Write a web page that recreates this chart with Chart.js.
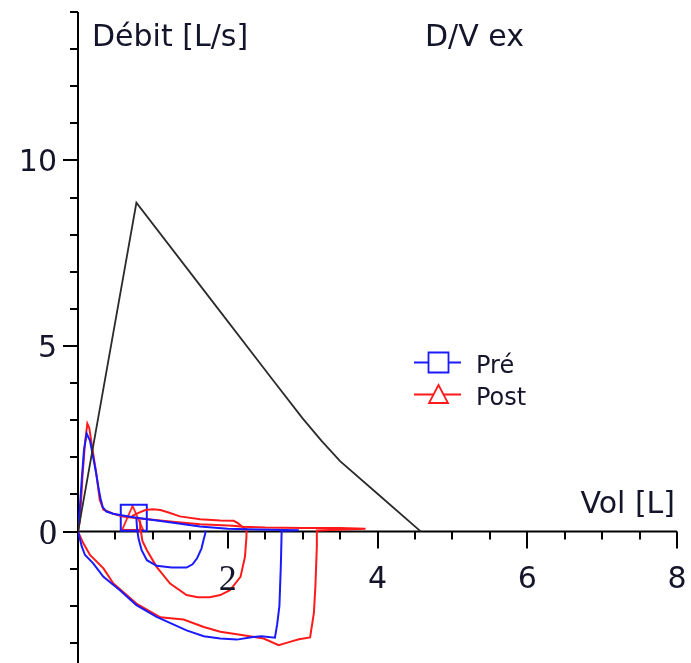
<!DOCTYPE html>
<html>
<head>
<meta charset="utf-8">
<script src="https://cdn.jsdelivr.net/npm/chart.js@4.4.1/dist/chart.umd.min.js"></script>
<style>
  html, body { margin: 0; padding: 0; background: #fff; }
</style>
</head>
<body>
<canvas id="chart" width="691" height="663"></canvas>
<script>
// axis ranges and tick labels
const volRange = [0, 8];
const flowRange = [-3.54, 14];
const volLabelTicks = [2, 4, 6, 8];
const flowLabelTicks = [0, 5, 10];

// predicted curve (black)
const predVol  = [0, 0.78, 1.8, 2.6, 3.0, 3.25, 3.5, 4.0, 4.58];
const predFlow = [0, 8.86, 6.19, 4.09, 3.05, 2.45, 1.9, 1.02, 0];

// Pré - forced loop
const preVol  = [0, 0.02, 0.05, 0.08, 0.116, 0.16, 0.2, 0.24, 0.27, 0.3, 0.33, 0.38, 0.47, 0.56, 0.7, 0.83,
                 1.2, 1.63, 2.0, 2.4, 2.95, 2.72, 2.71, 2.69, 2.66, 2.63, 2.45, 2.34, 2.12, 1.9, 1.68,
                 1.45, 1.05, 0.78, 0.56, 0.34, 0.2, 0.094, 0.05, 0.02, 0];
const preFlow = [0, 0.5, 1.4, 2.2, 2.64, 2.45, 2.03, 1.6, 1.22, 0.9, 0.66, 0.54, 0.48, 0.45, 0.4, 0.36,
                 0.26, 0.14, 0.08, 0.06, 0.04, 0.02, -0.85, -2.0, -2.5, -2.86, -2.82, -2.84, -2.91, -2.88, -2.82,
                 -2.66, -2.3, -1.98, -1.58, -1.22, -0.85, -0.63, -0.4, -0.15, 0];

// Pré - small loop
const preSmallVol  = [0.78, 0.79, 0.81, 0.85, 0.92, 1.05, 1.25, 1.45, 1.53, 1.59, 1.65, 1.68, 1.7, 1.7];
const preSmallFlow = [0.34, 0.05, -0.2, -0.5, -0.77, -0.92, -0.97, -0.97, -0.88, -0.72, -0.45, -0.2, -0.05, 0.03];

// Post - forced loop
const postVol  = [0, 0.027, 0.06, 0.094, 0.125, 0.15, 0.18, 0.25, 0.29, 0.34, 0.47, 0.6, 0.8, 1.0, 1.3, 1.63,
                  2.07, 2.2, 2.5, 3.0, 3.5, 3.84, 3.19, 3.19, 3.17, 3.15, 3.1, 2.95, 2.83, 2.68, 2.48, 2.21,
                  1.9, 1.68, 1.41, 1.1, 0.78, 0.47, 0.34, 0.16, 0.07, 0];
const postFlow = [0, 0.32, 1.49, 2.4, 2.91, 2.8, 2.4, 1.49, 0.86, 0.59, 0.48, 0.41, 0.36, 0.32, 0.26, 0.2,
                  0.16, 0.13, 0.11, 0.1, 0.1, 0.08, 0.03, -0.4, -1.5, -2.2, -2.85, -2.9, -2.97, -3.06, -2.88, -2.79,
                  -2.7, -2.57, -2.37, -2.31, -1.94, -1.39, -0.99, -0.63, -0.31, 0];

// Post - small loop
const postSmallVol  = [0.72, 0.8, 0.9, 1.0, 1.1, 1.2, 1.36, 1.63, 1.9, 2.08, 2.14, 2.2, 2.25, 2.25, 2.23, 2.17,
                       2.03, 1.9, 1.76, 1.6, 1.45, 1.23, 1.05, 0.92, 0.86, 0.84, 0.83];
const postSmallFlow = [0.42, 0.5, 0.58, 0.6, 0.58, 0.52, 0.41, 0.33, 0.3, 0.29, 0.22, 0.12, 0.06, -0.14, -0.68, -1.22,
                       -1.58, -1.71, -1.77, -1.77, -1.71, -1.4, -0.95, -0.5, -0.25, 0.0, 0.3];

// markers
const preMarker  = [0.745, 0.374];
const postMarker = [0.729, 0.369];

const BLUE = "#1a1aff";
const RED = "#ff1a1a";
const TEXT = "#14142a";

function toPoints(xs, ys) {
  return xs.map((x, i) => ({ x: x, y: ys[i] }));
}

function makeTriangle(w, h, color) {
  const c = document.createElement("canvas");
  c.width = w + 2;
  c.height = h + 2;
  const g = c.getContext("2d");
  g.strokeStyle = color;
  g.lineWidth = 1.8;
  g.beginPath();
  g.moveTo(c.width / 2, 1);
  g.lineTo(c.width - 1, c.height - 1);
  g.lineTo(1, c.height - 1);
  g.closePath();
  g.stroke();
  return c;
}

function line(data, color, width) {
  return {
    data: data,
    showLine: true,
    borderColor: color,
    borderWidth: width,
    pointRadius: 0,
    fill: false,
    tension: 0,
  };
}

const axesPlugin = {
  id: "axes",
  beforeDatasetsDraw(chart) {
    const { ctx, scales: { x, y } } = chart;
    const x0 = x.getPixelForValue(0);
    const y0 = y.getPixelForValue(0);

    ctx.save();
    ctx.strokeStyle = "#000";
    ctx.lineWidth = 2;
    ctx.beginPath();
    ctx.moveTo(x0, y.getPixelForValue(14));
    ctx.lineTo(x0, y.bottom);
    ctx.moveTo(x0, y0);
    ctx.lineTo(x.getPixelForValue(8), y0);

    // flow ticks, one per L/s
    for (let v = -3; v <= 14; v++) {
      const py = Math.round(y.getPixelForValue(v));
      const len = flowLabelTicks.includes(v) ? 15 : 8;
      ctx.moveTo(x0 - len, py);
      ctx.lineTo(x0, py);
    }
    // volume ticks, every 0.5 L
    for (let v = 0.5; v <= 8; v += 0.5) {
      const px = Math.round(x.getPixelForValue(v));
      const len = volLabelTicks.includes(v) ? 17 : 8;
      ctx.moveTo(px, y0);
      ctx.lineTo(px, y0 + len);
    }
    ctx.stroke();
    ctx.restore();
  },
  afterDraw(chart) {
    const { ctx, scales: { x, y } } = chart;
    const x0 = x.getPixelForValue(0);
    const y0 = y.getPixelForValue(0);

    ctx.save();
    ctx.fillStyle = TEXT;
    ctx.textBaseline = "middle";

    ctx.textAlign = "right";
    flowLabelTicks.forEach(v => {
      ctx.font = v === 0 ? "36px 'Liberation Serif'" : "30px 'DejaVu Sans'";
      ctx.fillText(String(v), x0 - 21, y.getPixelForValue(v) + 3);
    });

    ctx.textAlign = "center";
    volLabelTicks.forEach(v => {
      ctx.font = v === 2 ? "36px 'Liberation Serif'" : "30px 'DejaVu Sans'";
      ctx.fillText(String(v), x.getPixelForValue(v), y0 + 49);
    });

    // axis titles
    ctx.font = "30px 'DejaVu Sans'";
    ctx.textBaseline = "alphabetic";
    ctx.textAlign = "left";
    ctx.fillText("Débit [L/s]", 92, 46);
    ctx.fillText("D/V ex", 425, 46);
    ctx.textAlign = "right";
    ctx.fillText("Vol [L]", 675, 513);

    // legend
    const items = [
      { label: "Pré", color: BLUE, yPos: 362.5, mark: "rect" },
      { label: "Post", color: RED, yPos: 394.5, mark: "tri" },
    ];
    ctx.font = "24px 'DejaVu Sans'";
    ctx.textAlign = "left";
    items.forEach(it => {
      ctx.strokeStyle = it.color;
      ctx.lineWidth = 1.8;
      ctx.beginPath();
      ctx.moveTo(414, it.yPos);
      ctx.lineTo(461, it.yPos);
      ctx.stroke();
      ctx.fillStyle = "#fff";
      ctx.beginPath();
      if (it.mark === "rect") {
        ctx.rect(428.5, it.yPos - 10, 20, 20);
      } else {
        ctx.moveTo(438.5, it.yPos - 9.5);
        ctx.lineTo(448, it.yPos + 8.5);
        ctx.lineTo(429, it.yPos + 8.5);
        ctx.closePath();
      }
      ctx.fill();
      ctx.stroke();
      ctx.fillStyle = TEXT;
      ctx.fillText(it.label, 476, it.yPos + 10);
    });
    ctx.restore();
  }
};

new Chart(document.getElementById("chart"), {
  type: "scatter",
  data: {
    datasets: [
      line(toPoints(predVol, predFlow), "#2b2b2b", 1.8),
      line(toPoints(preVol, preFlow), BLUE, 2),
      line(toPoints(preSmallVol, preSmallFlow), BLUE, 2),
      line(toPoints(postVol, postFlow), RED, 2),
      line(toPoints(postSmallVol, postSmallFlow), RED, 2),
      {
        data: [{ x: preMarker[0], y: preMarker[1] }],
        pointStyle: "rect",
        pointRadius: 18.4,
        borderColor: BLUE,
        backgroundColor: "rgba(0,0,0,0)",
        borderWidth: 2,
        showLine: false,
      },
      {
        data: [{ x: postMarker[0], y: postMarker[1] }],
        pointStyle: makeTriangle(21, 24, RED),
        pointRadius: 12,
        showLine: false,
      },
    ],
  },
  options: {
    responsive: false,
    animation: false,
    layout: { autoPadding: false, padding: { left: 78, right: 14, top: 12, bottom: 0 } },
    plugins: {
      legend: { display: false },
      tooltip: { enabled: false },
    },
    scales: {
      x: { type: "linear", min: volRange[0], max: volRange[1], display: false },
      y: { type: "linear", min: flowRange[0], max: flowRange[1], display: false },
    },
  },
  plugins: [axesPlugin],
});
</script>
</body>
</html>
